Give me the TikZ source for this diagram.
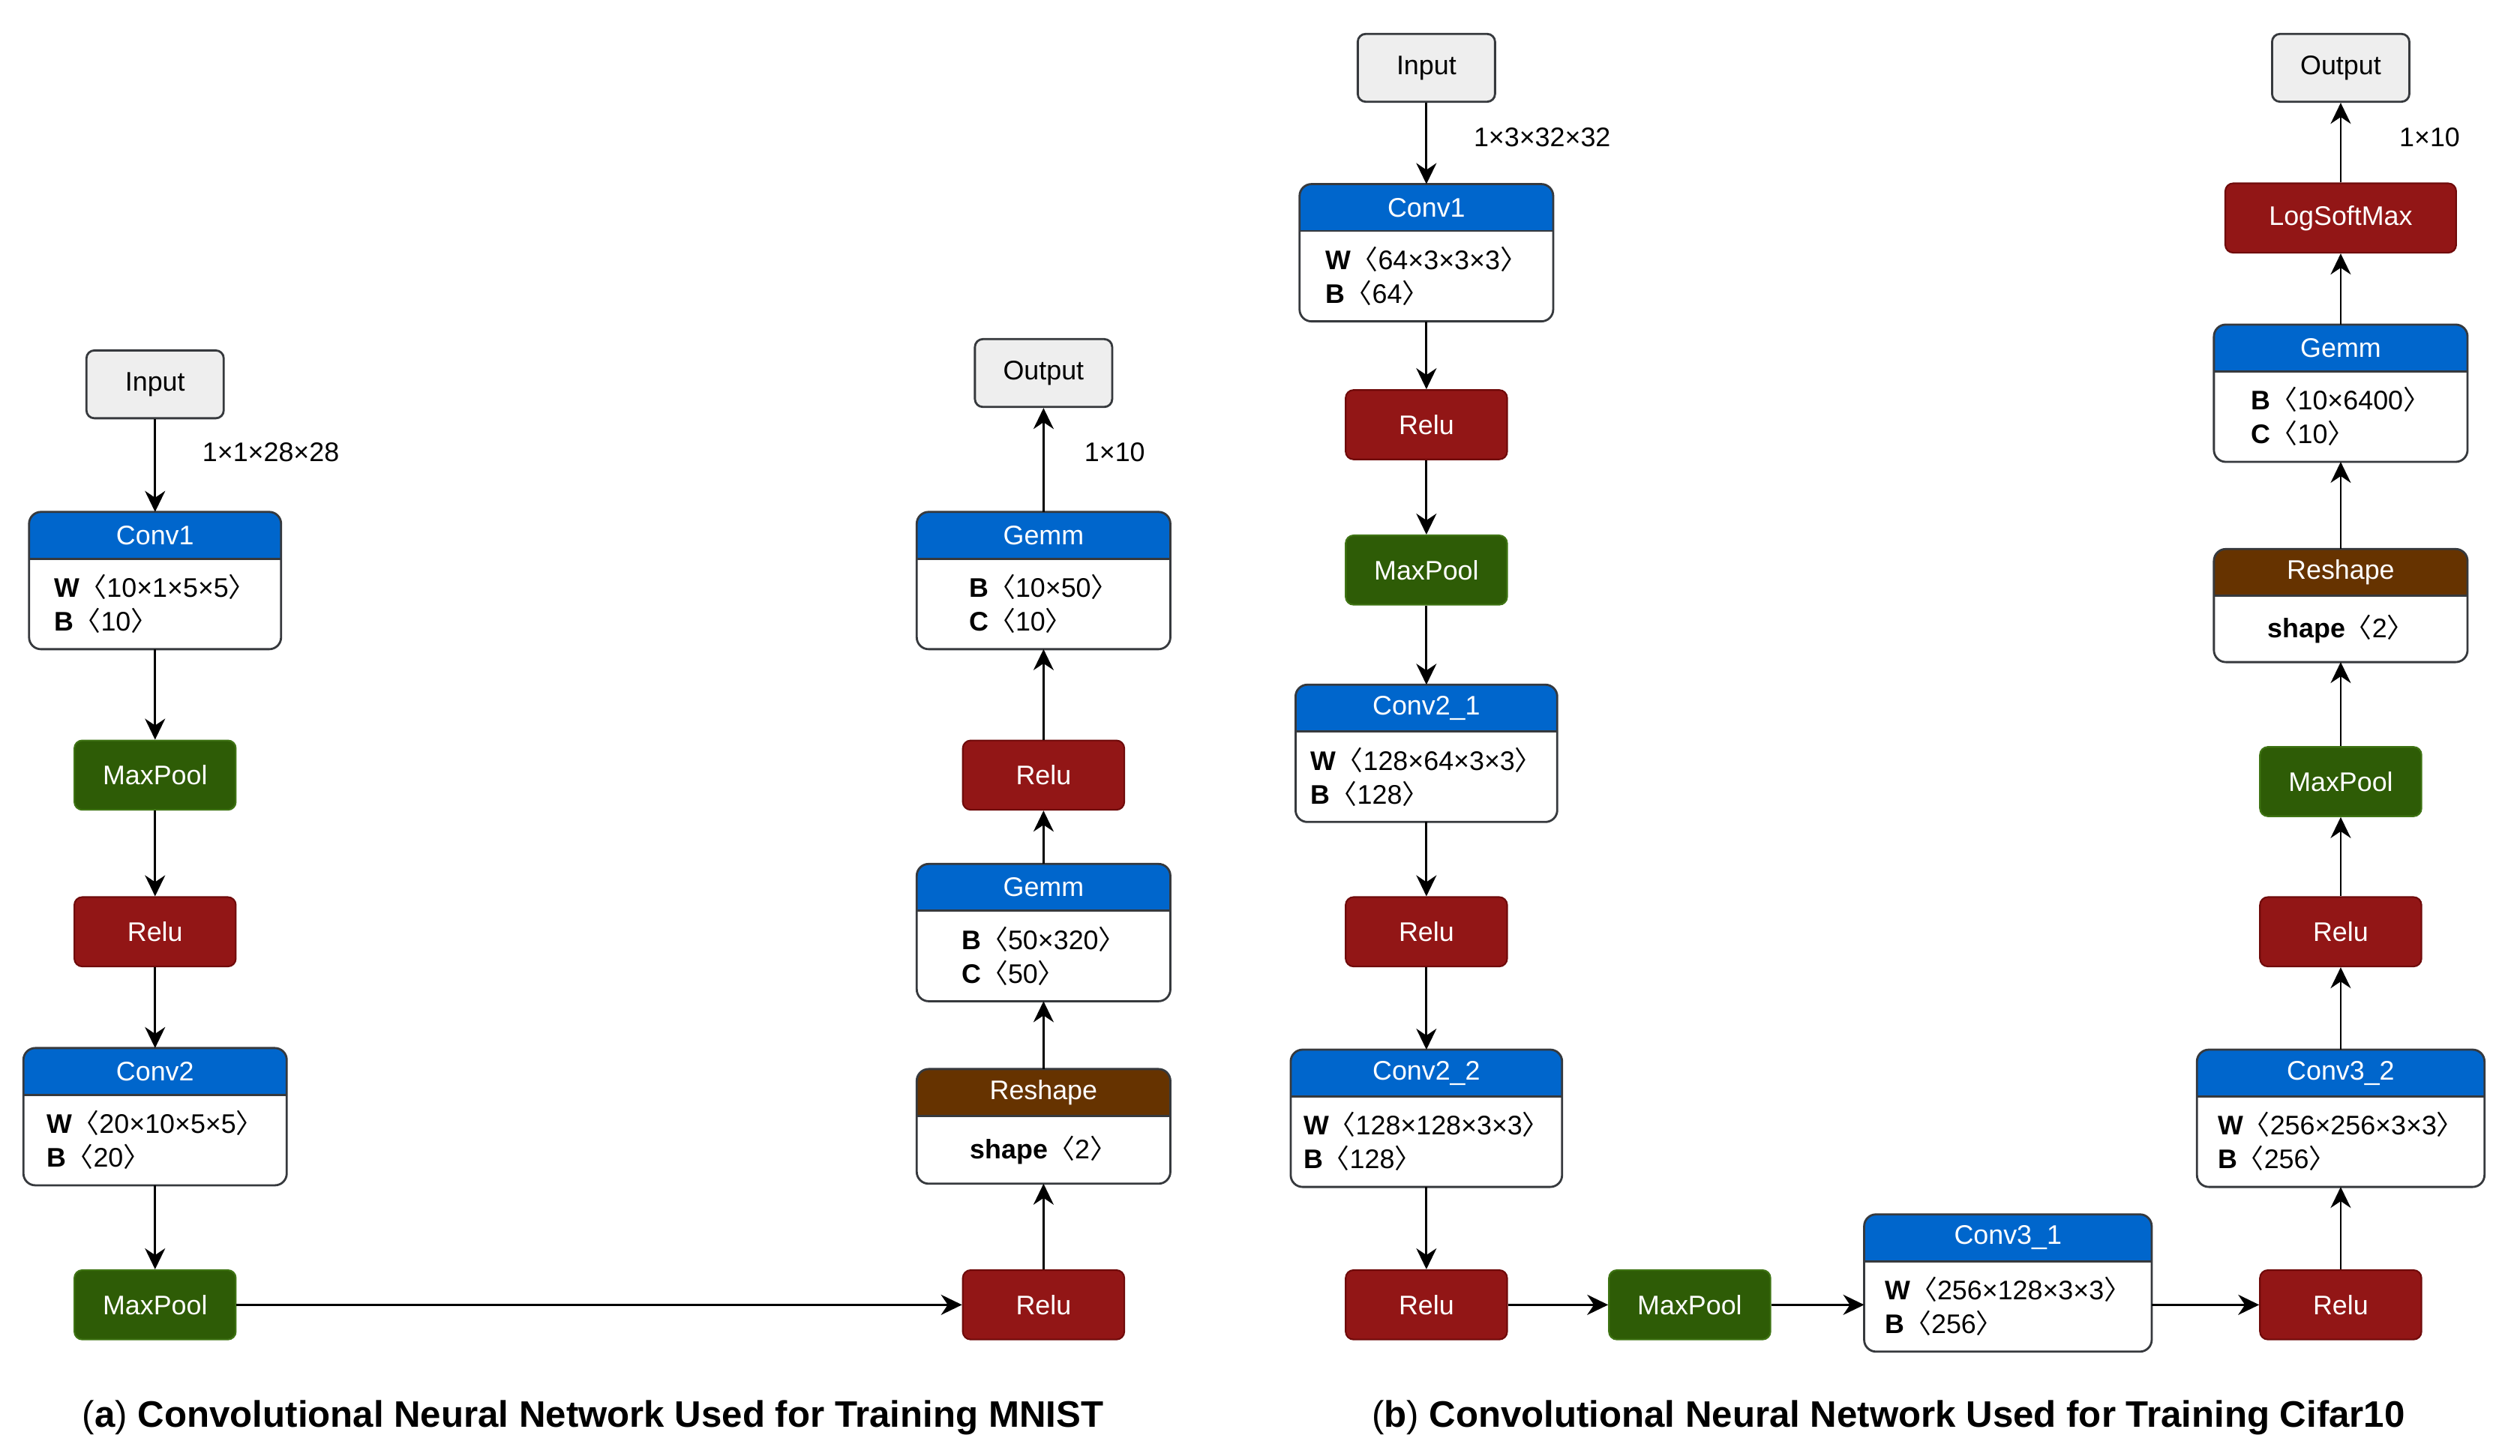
\documentclass[tikz,border=0pt]{standalone}
\usepackage{fontspec}
\setmainfont{Liberation Sans}
\newfontfamily\cjk{Noto Sans CJK SC}
\usetikzlibrary{arrows.meta}

\definecolor{headblue}{HTML}{0066CC}
\definecolor{relured}{HTML}{921616}
\definecolor{reluedge}{HTML}{6F0A0A}
\definecolor{poolgreen}{HTML}{2E5C06}
\definecolor{pooledge}{HTML}{3F7414}
\definecolor{reshbrown}{HTML}{663300}
\definecolor{iogrey}{HTML}{EEEEEE}
\definecolor{edgegrey}{HTML}{36393D}

\newcommand{\ux}{0.021538cm}
\newcommand{\langb}{{\cjk 〈}}
\newcommand{\rangb}{{\cjk 〉}}

% name, x, top, width, height, colour, title, body
\newcommand{\layerbox}[8]{%
  \node[inner sep=0pt, outer sep=0pt, minimum width={#4*\ux}, minimum height={#5*\ux}] (#1) at (#2,{#3+#5/2}) {};
  \begin{scope}
    \clip[rounded corners=4.5pt] (#1.south west) rectangle (#1.north east);
    \fill[#6] ({#2-#4/2},#3) rectangle ({#2+#4/2},{#3+29});
  \end{scope}
  \draw[boxline] ({#2-#4/2},{#3+29}) -- ({#2+#4/2},{#3+29});
  \draw[boxline, rounded corners=4.5pt] (#1.south west) rectangle (#1.north east);
  \node[headtext] at (#2,{#3+14.5}) {#7};
  \node[bodytext] at (#2,{#3+29+(#5-29)/2}) {#8};
}

\begin{document}
\begin{tikzpicture}[x=0.021538cm, y=-0.021538cm,
    font=\fontsize{10.2}{12}\selectfont,
    boxline/.style={draw=edgegrey, line width=0.8pt},
    headtext/.style={text=white, inner sep=0pt},
    bodytext/.style={align=left, inner sep=0pt, font=\fontsize{10.2}{12.8}\selectfont},
    opbox/.style={text=white, rounded corners=3pt, line width=0.6pt,
      minimum width=2.154cm, minimum height=0.926cm, inner sep=0pt},
    relubox/.style={opbox, fill=relured, draw=reluedge},
    poolbox/.style={opbox, fill=poolgreen, draw=pooledge},
    iobox/.style={fill=iogrey, draw=edgegrey, rounded corners=3pt, line width=0.8pt,
      minimum width=1.831cm, minimum height=0.905cm, inner sep=0pt},
    conn/.style={-{Stealth[length=2.8mm, width=2.7mm, inset=0.9mm]}, line width=0.8pt},
    dimtext/.style={anchor=west, inner sep=0pt},
    captext/.style={font=\fontsize{14}{16}\selectfont, inner sep=0pt}]
  \useasboundingbox (0,0) rectangle (1560,901.6);

  % (a) MNIST
  \node[iobox] (inA) at (96,238) {Input};
  \layerbox{convA1}{96}{317}{156}{85}{headblue}{Conv1}{\textbf{W}\langb10×1×5×5\rangb\\\textbf{B}\langb10\rangb}
  \node[poolbox] (poolA1) at (96,480) {MaxPool};
  \node[relubox] (reluA1) at (96,577) {Relu};
  \layerbox{convA2}{96}{649}{163}{85}{headblue}{Conv2}{\textbf{W}\langb20×10×5×5\rangb\\\textbf{B}\langb20\rangb}
  \node[poolbox] (poolA2) at (96,808) {MaxPool};
  \node[relubox] (reluA2) at (646,808) {Relu};
  \layerbox{reshA}{646}{662}{157}{71}{reshbrown}{Reshape}{\textbf{shape}\langb2\rangb}
  \layerbox{gemmA1}{646}{535}{157}{85}{headblue}{Gemm}{\textbf{B}\langb50×320\rangb\\\textbf{C}\langb50\rangb}
  \node[relubox] (reluA3) at (646,480) {Relu};
  \layerbox{gemmA2}{646}{317}{157}{85}{headblue}{Gemm}{\textbf{B}\langb10×50\rangb\\\textbf{C}\langb10\rangb}
  \node[iobox] (outA) at (646,231) {Output};
  \node[dimtext] (dimA1) at (125,280) {1×1×28×28};
  \node[dimtext] (dimA2) at (671,280) {1×10};

  \draw[conn] (inA) -- (convA1);
  \draw[conn] (convA1) -- (poolA1);
  \draw[conn] (poolA1) -- (reluA1);
  \draw[conn] (reluA1) -- (convA2);
  \draw[conn] (convA2) -- (poolA2);
  \draw[conn] (poolA2) -- (reluA2);
  \draw[conn] (reluA2) -- (reshA);
  \draw[conn] (reshA) -- (gemmA1);
  \draw[conn] (gemmA1) -- (reluA3);
  \draw[conn] (reluA3) -- (gemmA2);
  \draw[conn] (gemmA2) -- (outA);

  % (b) Cifar10
  \node[iobox] (inB) at (883,42) {Input};
  \layerbox{convB1}{883}{114}{157}{85}{headblue}{Conv1}{\textbf{W}\langb64×3×3×3\rangb\\\textbf{B}\langb64\rangb}
  \node[relubox] (reluB1) at (883,263) {Relu};
  \node[poolbox] (poolB1) at (883,353) {MaxPool};
  \layerbox{convB21}{883}{424}{162}{85}{headblue}{Conv2\_1}{\textbf{W}\langb128×64×3×3\rangb\\\textbf{B}\langb128\rangb}
  \node[relubox] (reluB2) at (883,577) {Relu};
  \layerbox{convB22}{883}{650}{168}{85}{headblue}{Conv2\_2}{\textbf{W}\langb128×128×3×3\rangb\\\textbf{B}\langb128\rangb}
  \node[relubox] (reluB3) at (883,808) {Relu};
  \node[poolbox] (poolB2) at (1046,808) {MaxPool};
  \layerbox{convB31}{1243}{752}{178}{85}{headblue}{Conv3\_1}{\textbf{W}\langb256×128×3×3\rangb\\\textbf{B}\langb256\rangb}
  \node[relubox] (reluB4) at (1449,808) {Relu};
  \layerbox{convB32}{1449}{650}{178}{85}{headblue}{Conv3\_2}{\textbf{W}\langb256×256×3×3\rangb\\\textbf{B}\langb256\rangb}
  \node[relubox] (reluB5) at (1449,577) {Relu};
  \node[poolbox] (poolB3) at (1449,484) {MaxPool};
  \layerbox{reshB}{1449}{340}{157}{70}{reshbrown}{Reshape}{\textbf{shape}\langb2\rangb}
  \layerbox{gemmB}{1449}{201}{157}{85}{headblue}{Gemm}{\textbf{B}\langb10×6400\rangb\\\textbf{C}\langb10\rangb}
  \node[relubox, minimum width=3.08cm] (lsmB) at (1449,135) {LogSoftMax};
  \node[iobox] (outB) at (1449,42) {Output};
  \node[dimtext] (dimB1) at (912,85) {1×3×32×32};
  \node[dimtext] (dimB2) at (1485,85) {1×10};

  \draw[conn] (inB) -- (convB1);
  \draw[conn] (convB1) -- (reluB1);
  \draw[conn] (reluB1) -- (poolB1);
  \draw[conn] (poolB1) -- (convB21);
  \draw[conn] (convB21) -- (reluB2);
  \draw[conn] (reluB2) -- (convB22);
  \draw[conn] (convB22) -- (reluB3);
  \draw[conn] (reluB3) -- (poolB2);
  \draw[conn] (poolB2) -- (poolB2 -| convB31.west);
  \draw[conn] (reluB4 -| convB31.east) -- (reluB4);
  \draw[conn] (reluB4) -- (convB32);
  \draw[conn] (convB32) -- (reluB5);
  \draw[conn] (reluB5) -- (poolB3);
  \draw[conn] (poolB3) -- (reshB);
  \draw[conn] (reshB) -- (gemmB);
  \draw[conn] (gemmB) -- (lsmB);
  \draw[conn] (lsmB) -- (outB);

  % captions
  \node[captext] (capA) at (367,878) {(\textbf{a}) \textbf{Convolutional Neural Network Used for Training MNIST}};
  \node[captext] (capB) at (1169,878) {(\textbf{b}) \textbf{Convolutional Neural Network Used for Training Cifar10}};
\end{tikzpicture}
\end{document}
